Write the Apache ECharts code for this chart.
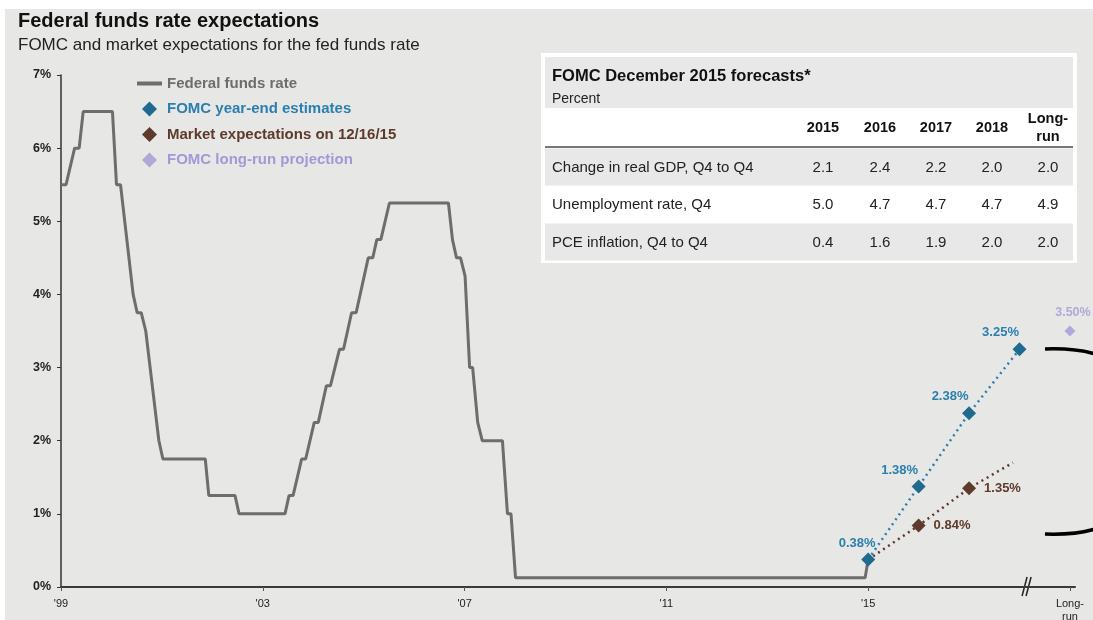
<!DOCTYPE html>
<html>
<head>
<meta charset="utf-8">
<script src="https://cdn.jsdelivr.net/npm/echarts@6/dist/echarts.min.js"></script>
<style>
  html, body { margin: 0; padding: 0; background: #fff; }
  #chart { width: 1093px; height: 620px; }
</style>
</head>
<body>
<div id="chart"></div>
<script>
// federal funds rate, [axis year position, percent]
const ffrRate = [
  [1999.00, 5.50], [1999.10, 5.50], [1999.27, 6.00], [1999.36, 6.00], [1999.44, 6.50],
  [2000.02, 6.50], [2000.10, 5.50], [2000.18, 5.50], [2000.43, 4.00], [2000.51, 3.75],
  [2000.59, 3.75], [2000.68, 3.50], [2000.94, 2.00], [2001.02, 1.75], [2001.86, 1.75],
  [2001.93, 1.25], [2002.45, 1.25], [2002.53, 1.00], [2003.44, 1.00], [2003.52, 1.25],
  [2003.60, 1.25], [2003.77, 1.75], [2003.85, 1.75], [2004.02, 2.25], [2004.10, 2.25],
  [2004.26, 2.75], [2004.34, 2.75], [2004.52, 3.25], [2004.60, 3.25], [2004.76, 3.75],
  [2004.85, 3.75], [2005.09, 4.50], [2005.18, 4.50], [2005.26, 4.75], [2005.34, 4.75],
  [2005.51, 5.25], [2006.68, 5.25], [2006.76, 4.75], [2006.84, 4.50], [2006.92, 4.50],
  [2007.01, 4.25], [2007.10, 3.00], [2007.16, 3.00], [2007.26, 2.25], [2007.35, 2.00],
  [2007.75, 2.00], [2007.85, 1.00], [2007.92, 1.00], [2008.01, 0.125], [2014.94, 0.125],
  [2015.00, 0.375]
];
const estYears = [2015, 2016, 2017, 2018];
const fomcEstimates = [0.375, 1.375, 2.375, 3.25];
const marketYears = [2015, 2016, 2017, 2017.87];
const marketExpect = [0.375, 0.84, 1.35, 1.70];
const longRunYear = 2019;
const longRunValue = 3.5;
const tickYears = [1999, 2003, 2007, 2011, 2015, 2019];
const tickLabels = ["'99", "'03", "'07", "'11", "'15", 'Long-\nrun'];
const breakYear = 2018.15;

// FOMC table
const tableCols = ['2015', '2016', '2017', '2018', 'Long-\nrun'];
const tableRows = ['Change in real GDP, Q4 to Q4', 'Unemployment rate, Q4', 'PCE inflation, Q4 to Q4'];
const gdpChange = [2.1, 2.4, 2.2, 2.0, 2.0];
const unemployment = [5.0, 4.7, 4.7, 4.7, 4.9];
const pceInflation = [0.4, 1.6, 1.9, 2.0, 2.0];
const tableValues = [gdpChange, unemployment, pceInflation];

const FONT = '"Liberation Sans", Arial, sans-serif';
const GRAY = '#6d6d6d', BLUE = '#1f6a8e', BLUE_TXT = '#2b7fae', BROWN = '#5e3a2c', LAV = '#a597d8';
const DIAMOND = 'path://M5,0L10,5L5,10L0,5Z';
const pct = p => p.value[1].toFixed(2) + '%';

const chart = echarts.init(document.getElementById('chart'));

chart.setOption({
  backgroundColor: '#e7e7e5',
  animation: false,
  textStyle: { fontFamily: FONT },
  title: {
    text: 'Federal funds rate expectations',
    subtext: 'FOMC and market expectations for the fed funds rate',
    left: 13, top: 6, itemGap: 6,
    textStyle: { fontFamily: FONT, fontSize: 20, fontWeight: 'bold', color: '#111' },
    subtextStyle: { fontFamily: FONT, fontSize: 17, color: '#222' }
  },
  legend: {
    orient: 'vertical', left: 137, top: 76, padding: 0, itemWidth: 25, itemHeight: 15, itemGap: 10.5,
    textStyle: { fontFamily: FONT, fontSize: 15, fontWeight: 'bold' },
    data: [
      { name: 'Federal funds rate', icon: 'path://M0,0H25V4H0Z', itemStyle: { color: GRAY }, textStyle: { color: GRAY } },
      { name: 'FOMC year-end estimates', icon: DIAMOND, itemStyle: { color: BLUE }, textStyle: { color: BLUE_TXT } },
      { name: 'Market expectations on 12/16/15', icon: DIAMOND, itemStyle: { color: BROWN }, textStyle: { color: BROWN } },
      { name: 'FOMC long-run projection', icon: DIAMOND, itemStyle: { color: LAV }, textStyle: { color: LAV } }
    ]
  },
  grid: { left: 61, right: 18, top: 75, bottom: 33, containLabel: false, outerBoundsMode: 'none' },
  xAxis: {
    type: 'value', min: 1999, max: 2019.1,
    splitLine: { show: false },
    axisLine: { show: true, lineStyle: { color: '#3a3a3a', width: 2 } },
    axisTick: { show: true, customValues: tickYears, length: 4, lineStyle: { color: '#555' } },
    axisLabel: {
      customValues: tickYears, margin: 10, fontSize: 11, lineHeight: 13, color: '#222',
      formatter: v => tickLabels[tickYears.indexOf(v)] || ''
    }
  },
  yAxis: {
    type: 'value', min: 0, max: 7, interval: 1,
    splitLine: { show: false },
    axisLine: { show: true, lineStyle: { color: '#333', width: 1.5 } },
    axisTick: { show: true, length: 4, lineStyle: { color: '#333' } },
    axisLabel: { fontSize: 12.5, fontWeight: 'bold', color: '#222', margin: 10, formatter: '{value}%' }
  },
  series: [
    {
      name: 'Federal funds rate', type: 'line', data: ffrRate, symbol: 'none',
      lineStyle: { color: GRAY, width: 3 }, itemStyle: { color: GRAY }, z: 3
    },
    {
      name: 'Market expectations on 12/16/15', type: 'line', z: 4,
      data: marketYears.map((x, i) => {
        const mark = i > 0 && i < marketYears.length - 1;
        return { value: [x, marketExpect[i]], symbol: mark ? DIAMOND : 'none', label: { show: mark } };
      }),
      symbolSize: 14,
      lineStyle: { color: BROWN, width: 2.5, type: [2, 4] },
      itemStyle: { color: BROWN },
      label: {
        show: true, position: 'right', distance: 8, formatter: pct,
        fontFamily: FONT, fontSize: 13, fontWeight: 'bold', color: BROWN
      }
    },
    {
      name: 'FOMC year-end estimates', type: 'line', z: 5,
      data: estYears.map((x, i) => i === 0
        ? { value: [x, fomcEstimates[i]], label: { offset: [-11, 0] } }
        : [x, fomcEstimates[i]]),
      symbol: DIAMOND, symbolSize: 14, showAllSymbol: true,
      lineStyle: { color: BLUE_TXT, width: 2.5, type: [2, 4] },
      itemStyle: { color: BLUE },
      label: {
        show: true, position: 'top', distance: 3, offset: [-19, 0], formatter: pct,
        fontFamily: FONT, fontSize: 13, fontWeight: 'bold', color: BLUE_TXT
      }
    },
    {
      name: 'FOMC long-run projection', type: 'scatter', z: 5,
      data: [[longRunYear, longRunValue]],
      symbol: DIAMOND, symbolSize: 11,
      itemStyle: { color: LAV },
      label: {
        show: true, position: 'top', distance: 6, offset: [3, 0], formatter: pct,
        fontFamily: FONT, fontSize: 12.5, fontWeight: 'bold', color: LAV
      }
    }
  ]
});

// table, axis break and decorations
const g = [];
g.push({ type: 'rect', shape: { x: 0, y: 0, width: 1093, height: 9 }, style: { fill: '#fff' } });
g.push({ type: 'rect', shape: { x: 0, y: 0, width: 5, height: 620 }, style: { fill: '#fff' } });

const tx = 541, ty = 53, tw = 536, th = 210;
const colX = [823, 880, 936, 992, 1048];
g.push({ type: 'rect', shape: { x: tx, y: ty, width: tw, height: th }, style: { fill: '#fff' } });
g.push({ type: 'rect', shape: { x: tx + 4, y: ty + 4, width: tw - 8, height: 51 }, style: { fill: '#e8e8e8' } });
g.push({ type: 'text', x: 552, y: 76, style: { text: 'FOMC December 2015 forecasts*', font: 'bold 16.5px ' + FONT, fill: '#111', verticalAlign: 'middle' } });
g.push({ type: 'text', x: 552, y: 99, style: { text: 'Percent', font: '14px ' + FONT, fill: '#222', verticalAlign: 'middle' } });
tableCols.forEach((c, j) => {
  g.push({ type: 'text', x: colX[j], y: 128, style: { text: c, font: 'bold 14.5px ' + FONT, lineHeight: 18, fill: '#111', align: 'center', verticalAlign: 'middle' } });
});
g.push({ type: 'line', shape: { x1: tx + 4, y1: 147, x2: tx + tw - 4, y2: 147 }, style: { stroke: '#777', lineWidth: 2 } });
tableRows.forEach((r, i) => {
  const top = 148.5 + i * 37.5;
  if (i % 2 === 0) {
    g.push({ type: 'rect', shape: { x: tx + 4, y: top, width: tw - 8, height: 37 }, style: { fill: '#e8e8e8' } });
  }
  g.push({ type: 'text', x: 552, y: top + 19, style: { text: r, font: '15px ' + FONT, fill: '#222', verticalAlign: 'middle' } });
  tableValues[i].forEach((v, j) => {
    g.push({ type: 'text', x: colX[j], y: top + 19, style: { text: v.toFixed(1), font: '15px ' + FONT, fill: '#222', align: 'center', verticalAlign: 'middle' } });
  });
});

const bp = chart.convertToPixel({ gridIndex: 0 }, [breakYear, 0]);
g.push({ type: 'polygon', shape: { points: [[bp[0] - 5, bp[1] + 9], [bp[0], bp[1] - 10], [bp[0] + 4, bp[1] - 10], [bp[0] - 1, bp[1] + 9]] }, style: { fill: '#e7e7e5' } });
g.push({ type: 'line', shape: { x1: bp[0] - 5, y1: bp[1] + 9, x2: bp[0], y2: bp[1] - 10 }, style: { stroke: '#222', lineWidth: 1.5 } });
g.push({ type: 'line', shape: { x1: bp[0] - 1, y1: bp[1] + 9, x2: bp[0] + 4, y2: bp[1] - 10 }, style: { stroke: '#222', lineWidth: 1.5 } });

g.push({ type: 'bezierCurve', shape: { x1: 1045, y1: 349, cpx1: 1075, cpy1: 348, x2: 1095, y2: 354 }, style: { stroke: '#000', lineWidth: 3.5, fill: null } });
g.push({ type: 'bezierCurve', shape: { x1: 1045, y1: 534, cpx1: 1075, cpy1: 535, x2: 1095, y2: 529 }, style: { stroke: '#000', lineWidth: 3.5, fill: null } });

chart.setOption({ graphic: g });
</script>
</body>
</html>
